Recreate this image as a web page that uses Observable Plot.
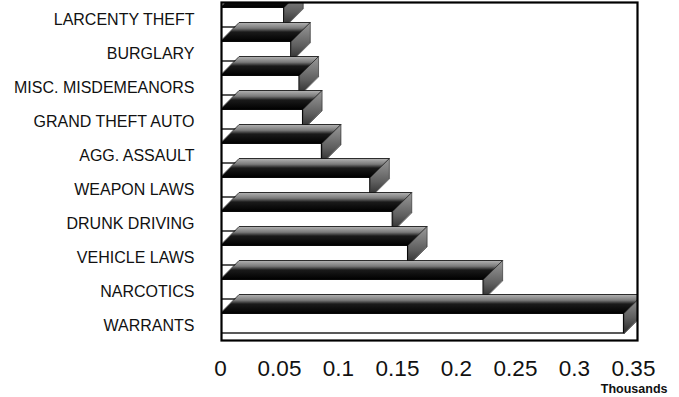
<!DOCTYPE html>
<html>
<head>
<meta charset="utf-8">
<script src="https://cdn.jsdelivr.net/npm/d3@7"></script>
<script src="https://cdn.jsdelivr.net/npm/@observablehq/plot@0.6"></script>
<style>
  html, body { margin: 0; padding: 0; background: #fff; }
  #chart svg { display: block; font-family: "Liberation Sans", Arial, sans-serif; }
</style>
</head>
<body>
<svg width="0" height="0" style="position:absolute">
  <defs>
    <linearGradient id="topFace" x1="0" y1="0" x2="0" y2="1">
      <stop offset="0" stop-color="#b4b4b4"/>
      <stop offset="0.3" stop-color="#7a7a7a"/>
      <stop offset="0.5" stop-color="#1a1a1a"/>
      <stop offset="1" stop-color="#000"/>
    </linearGradient>
    <linearGradient id="rightFace" x1="0" y1="0" x2="0" y2="1">
      <stop offset="0" stop-color="#9a9a9a"/>
      <stop offset="0.6" stop-color="#5e5e5e"/>
      <stop offset="1" stop-color="#262626"/>
    </linearGradient>
  </defs>
</svg>
<div id="chart"></div>
<script>
// ---- data ----
const categories = [
  "LARCENTY THEFT", "BURGLARY", "MISC. MISDEMEANORS", "GRAND THEFT AUTO",
  "AGG. ASSAULT", "WEAPON LAWS", "DRUNK DRIVING", "VEHICLE LAWS",
  "NARCOTICS", "WARRANTS"
];
const values = [0.054, 0.060, 0.067, 0.070, 0.086, 0.127, 0.146, 0.159, 0.223, 0.342];
const xTicks = [0, 0.05, 0.1, 0.15, 0.2, 0.25, 0.3, 0.35];
const xTickLabels = ["0", "0.05", "0.1", "0.15", "0.2", "0.25", "0.3", "0.35"];
const unitLabel = "Thousands";

// ---- layout / style ----
const W = 679, H = 397;
const xRange = [220, 633];
const yRange = [17, 323];
const depthPx = 19, halfPx = 10;
const pxPerX = (xRange[1] - xRange[0]) / (xTicks[xTicks.length - 1] - xTicks[0]);
const pxPerY = (yRange[1] - yRange[0]) / (categories.length - 1);
const ddx = depthPx / pxPerX, ddy = depthPx / pxPerY, hh = halfPx / pxPerY;

const bars = categories.map((name, i) => ({name, i, value: values[i]}));

function topFace(b) {
  return [
    {x: 0, y: b.i - hh},
    {x: b.value, y: b.i - hh},
    {x: b.value + ddx, y: b.i - hh - ddy},
    {x: ddx, y: b.i - hh - ddy}
  ];
}
function rightFace(b) {
  return [
    {x: b.value, y: b.i + hh},
    {x: b.value, y: b.i - hh},
    {x: b.value + ddx, y: b.i - hh - ddy},
    {x: b.value + ddx, y: b.i + hh - ddy}
  ];
}

const barMarks = bars.flatMap(b => [
  Plot.rect([b], {x1: 0, x2: "value", y1: d => d.i - hh, y2: d => d.i + hh,
    fill: "#fff", stroke: "#000", strokeWidth: 1.3, clip: true}),
  Plot.line(topFace(b), {x: "x", y: "y", curve: "linear-closed",
    fill: "url(#topFace)", stroke: "#000", strokeWidth: 0.8, clip: true}),
  Plot.line(rightFace(b), {x: "x", y: "y", curve: "linear-closed",
    fill: "url(#rightFace)", stroke: "#222", strokeWidth: 0.6, clip: true})
]);

const chart = Plot.plot({
  width: W,
  height: H,
  marginLeft: 221,
  marginRight: 42,
  marginTop: 2,
  marginBottom: 57,
  style: {background: "#fff", color: "#111", fontFamily: "'Liberation Sans', Arial, sans-serif"},
  x: {domain: [0, 0.35], range: xRange},
  y: {domain: [0, categories.length - 1], range: yRange},
  marks: [
    ...barMarks,
    Plot.frame({stroke: "#000", strokeWidth: 2.2}),
    Plot.axisY(d3.range(categories.length), {
      tickSize: 0, tickPadding: 27, fontSize: 16, dy: 2,
      tickFormat: i => categories[i], label: null, fill: "#111"
    }),
    Plot.axisX(xTicks, {
      anchor: "bottom", tickSize: 0, tickPadding: 20, fontSize: 22.5,
      tickFormat: d => xTickLabels[xTicks.indexOf(d)], label: null, fill: "#111"
    }),
    Plot.text([unitLabel], {
      text: d => d, frameAnchor: "bottom-right", textAnchor: "end",
      lineAnchor: "middle", dx: 30, dy: 48, fontSize: 12.5, fontWeight: "bold", fill: "#111"
    })
  ]
});
document.getElementById("chart").appendChild(chart);
</script>
</body>
</html>
